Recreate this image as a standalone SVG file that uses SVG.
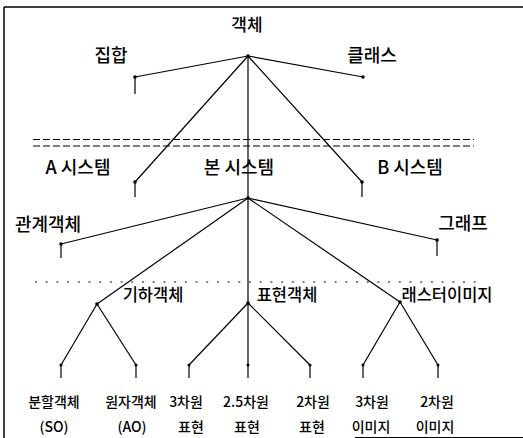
<svg xmlns="http://www.w3.org/2000/svg" width="523" height="438" viewBox="0 0 523 438">
<style>
text{font-family:"Noto Sans CJK KR","Liberation Sans",sans-serif;fill:#000;text-anchor:middle;font-weight:500}
.l0{font-size:17px}
.l1{font-size:18px}
.l3{font-size:16.5px}
.lf{font-size:14px}
.c line{stroke:#000;stroke-width:1.2;fill:none}
.c circle{fill:#000}
.dash{stroke:#000;stroke-width:1;stroke-dasharray:7 3}
.dot{stroke:#000;stroke-width:1.2;stroke-dasharray:2 8.7}
</style>
<rect width="523" height="438" fill="#fff"/>
<g id="frame">
<line x1="4" y1="7" x2="523" y2="7" stroke="#000" stroke-width="1.5"/>
<line x1="4" y1="7" x2="4" y2="438" stroke="#000" stroke-width="1.5"/>
<line x1="355" y1="437.5" x2="523" y2="437.5" stroke="#000" stroke-width="1"/>
</g>
<g id="separators">
<line class="dash" x1="33" y1="139.5" x2="474" y2="139.5"/>
<line class="dash" x1="33" y1="146" x2="474" y2="146"/>
<line class="dot" x1="35" y1="282" x2="482" y2="282"/>
</g>
<g id="connectors" class="c">
<line x1="248" y1="56" x2="135" y2="77"/><line x1="135" y1="77" x2="135" y2="94"/>
<line x1="248" y1="56" x2="363" y2="77"/>
<line x1="248" y1="56" x2="135" y2="182"/><line x1="135" y1="182" x2="135" y2="197"/>
<line x1="248" y1="56" x2="362" y2="182"/><line x1="362" y1="182" x2="362" y2="197"/>
<line x1="248" y1="56" x2="248" y2="378"/>
<line x1="248" y1="198" x2="61" y2="244"/><line x1="61" y1="244" x2="61" y2="258"/>
<line x1="248" y1="198" x2="437" y2="240"/><line x1="437" y1="240" x2="437" y2="256"/>
<line x1="248" y1="198" x2="97" y2="304"/>
<line x1="248" y1="198" x2="400" y2="302"/>
<line x1="97" y1="304" x2="61" y2="365"/><line x1="97" y1="304" x2="136" y2="365"/>
<line x1="248" y1="303" x2="189" y2="365"/><line x1="248" y1="303" x2="310" y2="365"/>
<line x1="400" y1="302" x2="363" y2="365"/><line x1="400" y1="302" x2="438" y2="365"/>
<line x1="61" y1="365" x2="61" y2="378"/><line x1="136" y1="365" x2="136" y2="378"/>
<line x1="189" y1="365" x2="189" y2="378"/><line x1="310" y1="365" x2="310" y2="378"/>
<line x1="363" y1="365" x2="363" y2="378"/><line x1="438" y1="365" x2="438" y2="378"/>
<circle cx="248" cy="56" r="1.8"/><circle cx="135" cy="77" r="1.8"/><circle cx="363" cy="77" r="1.8"/>
<circle cx="135" cy="182" r="1.8"/><circle cx="362" cy="182" r="1.8"/><circle cx="248" cy="198" r="1.8"/>
<circle cx="61" cy="244" r="1.8"/><circle cx="437" cy="240" r="1.8"/>
<circle cx="97" cy="304" r="1.8"/><circle cx="248" cy="303" r="1.8"/><circle cx="400" cy="302" r="1.8"/>
<circle cx="61" cy="365" r="1.5"/><circle cx="136" cy="365" r="1.5"/><circle cx="189" cy="365" r="1.5"/>
<circle cx="248" cy="365" r="1.5"/><circle cx="310" cy="365" r="1.5"/><circle cx="363" cy="365" r="1.5"/><circle cx="438" cy="365" r="1.5"/>
</g>
<g id="n-object"><text class="l0" x="247" y="31">객체</text></g>
<g id="n-set"><text class="l1" x="111" y="62">집합</text></g>
<g id="n-class"><text class="l1" x="372" y="62">클래스</text></g>
<g id="n-asys"><text class="l1" x="78" y="174">A 시스템</text></g>
<g id="n-mainsys"><text class="l1" x="239" y="174">본 시스템</text></g>
<g id="n-bsys"><text class="l1" x="410" y="174">B 시스템</text></g>
<g id="n-relation"><text class="l1" x="48" y="231">관계객체</text></g>
<g id="n-graph"><text class="l1" x="463" y="230">그래프</text></g>
<g id="n-geometry"><text class="l3" x="153" y="301">기하객체</text></g>
<g id="n-repr"><text class="l3" x="287" y="301">표현객체</text></g>
<g id="n-raster"><text class="l3" x="447" y="301">래스터이미지</text></g>
<g id="n-so"><text class="lf" x="54" y="407">분할객체</text><text class="lf" x="54" y="432">(SO)</text></g>
<g id="n-ao"><text class="lf" x="131" y="407">원자객체</text><text class="lf" x="132" y="432">(AO)</text></g>
<g id="n-3d"><text class="lf" x="186" y="407">3차원</text><text class="lf" x="191" y="432">표현</text></g>
<g id="n-25d"><text class="lf" x="246" y="407">2.5차원</text><text class="lf" x="247" y="432">표현</text></g>
<g id="n-2d"><text class="lf" x="313" y="407">2차원</text><text class="lf" x="312" y="432">표현</text></g>
<g id="n-3dimg"><text class="lf" x="372" y="407">3차원</text><text class="lf" x="371" y="432">이미지</text></g>
<g id="n-2dimg"><text class="lf" x="437" y="407">2차원</text><text class="lf" x="435" y="432">이미지</text></g>
</svg>
